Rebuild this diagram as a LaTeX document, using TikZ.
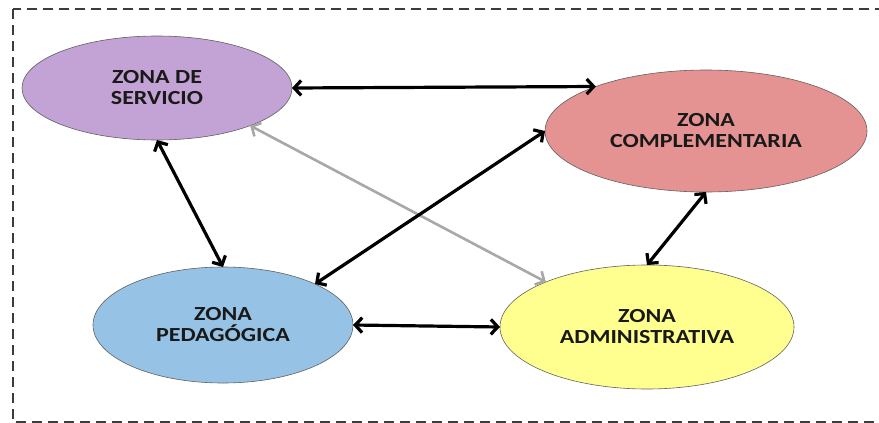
\documentclass[tikz,border=0pt]{standalone}
\usepackage{fontspec}
\setmainfont{Carlito}[FakeStretch=1.2]
\usetikzlibrary{shapes.geometric,arrows.meta}

\definecolor{servfill}{RGB}{195,163,214}
\definecolor{compfill}{RGB}{229,146,146}
\definecolor{pedfill}{RGB}{150,195,229}
\definecolor{admfill}{RGB}{255,255,143}
\definecolor{framegray}{RGB}{60,60,60}
\definecolor{linkgray}{RGB}{168,168,168}

\tikzset{
  zone/.style={ellipse, draw=gray!75!black, line width=0.6pt, inner sep=0pt, outer sep=0pt,
    align=center, text=black!90, font=\bfseries\fontsize{20}{21}\selectfont},
  barbs/.style={{Straight Barb[length=7pt,width=15pt]}-{Straight Barb[length=7pt,width=15pt]}},
  link/.style={barbs, line width=3.2pt, black},
  softlink/.style={barbs, line width=2.6pt, linkgray},
  frame/.style={draw=framegray, line width=2.2pt, dash pattern=on 10pt off 6pt}
}

\begin{document}
\begin{tikzpicture}[x=1pt,y=-1pt]
  \useasboundingbox (0,0) rectangle (879,423);
  \draw[frame] (13,9) rectangle (900,422);

  \node[zone, fill=servfill, minimum width=270pt, minimum height=104pt] (serv) at (157,88) {ZONA DE\\SERVICIO};
  \node[zone, fill=compfill, minimum width=322pt, minimum height=122pt] (comp) at (706,131) {ZONA\\COMPLEMENTARIA};
  \node[zone, fill=pedfill, minimum width=260pt, minimum height=116pt] (ped) at (223,325) {ZONA\\PEDAGÓGICA};
  \node[zone, fill=admfill, minimum width=294pt, minimum height=124pt] (adm) at (647,327) {ZONA\\ADMINISTRATIVA};

  \draw[softlink] (serv.-22) -- (adm.156);
  \draw[link] (serv.east) -- (comp.158);
  \draw[link] (serv.south) -- (ped.north);
  \draw[link] (ped.24) -- (comp.west);
  \draw[link] (ped.east) -- (adm.west);
  \draw[link] (comp.south) -- (adm.north);
\end{tikzpicture}
\end{document}
